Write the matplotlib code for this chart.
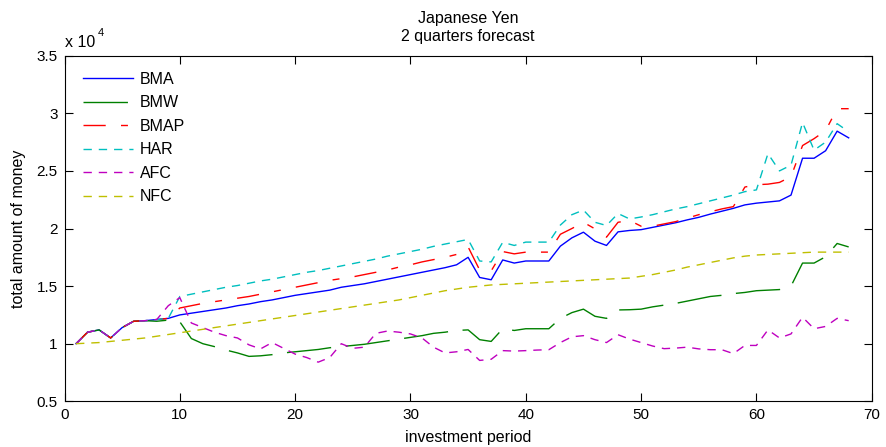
import numpy as np
import matplotlib
matplotlib.use("Agg")
import matplotlib.pyplot as plt

plt.rcParams["font.family"] = ["Liberation Sans", "DejaVu Sans"]

# investment periods 1..68
periods = list(range(1, 69))

# total amount of money per model
bma = [10000, 11000, 11200, 10500, 11400, 11950, 12000, 12100, 12200, 12500,
       12650, 12800, 12950, 13100, 13300, 13450, 13650, 13800, 14000, 14200,
       14350, 14500, 14650, 14900, 15050, 15200, 15400, 15600, 15800, 16000,
       16200, 16400, 16600, 16850, 17500, 15750, 15550, 17270, 17000, 17180,
       17180, 17180, 18470, 19190, 19680, 18900, 18530, 19710, 19830, 19900,
       20100, 20300, 20500, 20750, 20970, 21250, 21500, 21750, 22050, 22200,
       22300, 22400, 22900, 26100, 26100, 26750, 28450, 27870]

bmw = [10000, 11000, 11200, 10500, 11400, 11950, 12000, 11950, 12050, 11900,
       10450, 10000, 9750, 9450, 9200, 8900, 8950, 9050, 9200, 9300,
       9400, 9500, 9650, 9750, 9850, 9950, 10100, 10250, 10400, 10550,
       10700, 10900, 11000, 11150, 11200, 10350, 10200, 11300, 11150, 11300,
       11300, 11300, 12200, 12700, 13000, 12380, 12200, 12930, 12950, 13000,
       13200, 13350, 13500, 13700, 13900, 14100, 14200, 14350, 14450, 14600,
       14650, 14700, 15000, 17000, 17000, 17550, 18700, 18400]

bmap = [10000, 11000, 11200, 10500, 11400, 11950, 12000, 12100, 12200, 13100,
        13300, 13500, 13650, 13800, 13950, 14100, 14300, 14500, 14700, 14900,
        15100, 15300, 15500, 15650, 15800, 16000, 16200, 16400, 16650, 16850,
        17100, 17300, 17500, 17750, 18400, 16400, 16320, 18000, 17800, 17950,
        17950, 17950, 19500, 20000, 20540, 19970, 19250, 20540, 20700, 20200,
        20200, 20400, 20600, 20900, 21200, 21450, 21700, 21900, 23600, 23800,
        23850, 24000, 24500, 27200, 27800, 28500, 30400, 30400]

har = [10000, 11000, 11200, 10500, 11400, 11950, 12000, 12100, 12200, 14100,
       14300, 14500, 14700, 14900, 15050, 15250, 15450, 15600, 15800, 16000,
       16200, 16350, 16550, 16750, 16950, 17150, 17350, 17600, 17800, 18000,
       18200, 18450, 18650, 18850, 19050, 17180, 17100, 18800, 18530, 18820,
       18820, 18820, 20300, 21200, 21600, 20540, 20260, 21300, 20830, 21000,
       21200, 21450, 21700, 21900, 22150, 22400, 22650, 22900, 23200, 23350,
       26500, 25000, 25500, 29200, 26800, 27500, 29100, 28400]

afc = [10000, 11000, 11200, 10500, 11400, 11950, 12000, 12100, 13300, 14000,
       11800, 11400, 11000, 10700, 10500, 9900, 9550, 10100, 9600, 9100,
       8800, 8400, 8800, 10000, 9600, 9700, 10900, 11100, 11000, 10850,
       10500, 9700, 9200, 9300, 9500, 8550, 8650, 9400, 9360, 9400,
       9450, 9480, 10100, 10600, 10700, 10350, 10100, 10780, 10400, 10100,
       9800, 9570, 9620, 9700, 9550, 9480, 9480, 9140, 9850, 9850,
       11200, 10500, 10850, 12300, 11300, 11500, 12200, 12000]

nfc = [10000, 10050, 10100, 10200, 10300, 10400, 10500, 10650, 10800, 10950,
       11100, 11250, 11400, 11550, 11700, 11850, 12000, 12150, 12300, 12450,
       12600, 12750, 12900, 13050, 13200, 13350, 13500, 13650, 13800, 14000,
       14200, 14400, 14600, 14750, 14900, 15000, 15100, 15150, 15200, 15250,
       15300, 15350, 15400, 15450, 15500, 15550, 15600, 15650, 15700, 15850,
       16000, 16200, 16400, 16650, 16850, 17050, 17250, 17450, 17600, 17700,
       17750, 17800, 17850, 17900, 17950, 17950, 17950, 17950]

series_names = ["BMA", "BMW", "BMAP", "HAR", "AFC", "NFC"]

x_ticks = [0, 10, 20, 30, 40, 50, 60, 70]
y_ticks = [0.5, 1, 1.5, 2, 2.5, 3, 3.5]
y_tick_labels = ["0.5", "1", "1.5", "2", "2.5", "3", "3.5"]


def main():
    fig = plt.figure(figsize=(8.86, 4.47), dpi=100)
    ax = fig.add_axes([0.0728, 0.1022, 0.9111, 0.7732])

    styles = [
        dict(color=(0, 0, 1), linestyle="-"),
        dict(color=(0, 0.5, 0), linestyle=(0, (32, 10.5))),
        dict(color=(1, 0, 0), linestyle=(0, (16, 11, 5, 11))),
        dict(color=(0, 0.75, 0.75), linestyle=(0, (6, 5))),
        dict(color=(0.75, 0, 0.75), linestyle=(0, (6, 5))),
        dict(color=(0.75, 0.75, 0), linestyle=(0, (6, 5))),
    ]
    data = [bma, bmw, bmap, har, afc, nfc]

    for name, values, style in zip(series_names, data, styles):
        ax.plot(periods, np.array(values) / 1e4, lw=1.0, label=name, **style)

    ax.set_xlim(0, 70)
    ax.set_ylim(0.5, 3.5)
    ax.set_xticks(x_ticks)
    ax.set_yticks(y_ticks)
    ax.set_yticklabels(y_tick_labels)
    ax.tick_params(direction="in", top=True, right=True, length=5.5,
                   width=0.8, labelsize=11, pad=5)
    for spine in ax.spines.values():
        spine.set_linewidth(0.8)

    ax.set_xlabel("investment period", fontsize=11.5, labelpad=5.5)
    ax.set_ylabel("total amount of money", fontsize=11.5, labelpad=7.5)
    ax.set_title("Japanese Yen\n2 quarters forecast", fontsize=11.5, pad=10.5,
                 linespacing=1.22)

    ax.text(0.0, 1.016, "x 10", transform=ax.transAxes, fontsize=11.5,
            ha="left", va="bottom")
    ax.text(0.041, 1.052, "4", transform=ax.transAxes, fontsize=8,
            ha="left", va="bottom")

    ax.legend(loc="upper left", bbox_to_anchor=(0.0229, 0.953), frameon=False,
              fontsize=11.5, handlelength=3.13, handletextpad=0.44,
              labelspacing=0.53, borderpad=0, borderaxespad=0)

    fig.savefig("out.png", dpi=100)
    plt.close(fig)


if __name__ == "__main__":
    main()
